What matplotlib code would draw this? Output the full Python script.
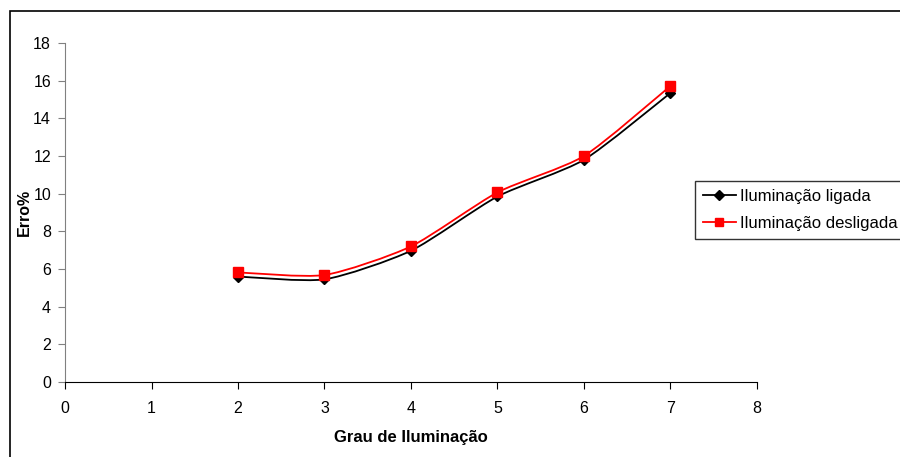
import numpy as np
import matplotlib.pyplot as plt
from matplotlib.path import Path
from matplotlib.patches import PathPatch, Rectangle
from matplotlib.lines import Line2D

plt.rcParams['font.family'] = ['Liberation Sans', 'DejaVu Sans']

grau = [2, 3, 4, 5, 6, 7]
erro_ligada = [5.6, 5.45, 6.97, 9.85, 11.8, 15.35]
erro_desligada = [5.82, 5.68, 7.2, 10.07, 12.0, 15.72]
x_ticks = [0, 1, 2, 3, 4, 5, 6, 7, 8]
y_ticks = [0, 2, 4, 6, 8, 10, 12, 14, 16, 18]


def smooth_path(xs, ys, t=1 / 9):
    # Excel-like smoothed line: cardinal spline as cubic bezier segments
    pts = np.column_stack([xs, ys]).astype(float)
    verts = [pts[0]]
    codes = [Path.MOVETO]
    for i in range(len(pts) - 1):
        p0 = pts[i - 1] if i > 0 else pts[i]
        p1 = pts[i]
        p2 = pts[i + 1]
        p3 = pts[i + 2] if i + 2 < len(pts) else pts[i + 1]
        c1 = p1 + (p2 - p0) * t
        c2 = p2 - (p3 - p1) * t
        verts += [c1, c2, p2]
        codes += [Path.CURVE4] * 3
    return Path(verts, codes)


fig = plt.figure(figsize=(9, 4.57), dpi=100)
ax = fig.add_axes([65 / 900, 1 - 382 / 457, 692 / 900, 339 / 457])

ax.add_patch(PathPatch(smooth_path(grau, erro_ligada), fill=False, color='black', lw=1.3))
ax.plot(grau, erro_ligada, ls='none', marker='D', ms=5.5, color='black')
ax.add_patch(PathPatch(smooth_path(grau, erro_desligada), fill=False, color='red', lw=1.3))
ax.plot(grau, erro_desligada, ls='none', marker='s', ms=6.5, color='red')

ax.set_xlim(0, 8)
ax.set_ylim(0, 18)
ax.set_xticks(x_ticks)
ax.set_yticks(y_ticks)
ax.tick_params(direction='out', length=5, labelsize=11.5)
ax.tick_params(axis='x', pad=9)
ax.tick_params(axis='y', pad=5, color='#808080')
for s in ['top', 'right']:
    ax.spines[s].set_visible(False)
ax.spines['left'].set_color('#808080')
ax.spines['bottom'].set_color('black')
ax.set_xlabel('Grau de Iluminação', fontsize=12, fontweight='bold', labelpad=10)
ax.set_ylabel('Erro%', fontsize=11.5, fontweight='bold', labelpad=1)

handles = [
    Line2D([], [], color='black', marker='D', ms=5, lw=1.3),
    Line2D([], [], color='red', marker='s', ms=6, lw=1.3),
]
leg = fig.legend(handles, ['Iluminação ligada', 'Iluminação desligada'],
                 loc='upper left', bbox_to_anchor=(695 / 900, 1 - 181 / 457),
                 fontsize=12, frameon=True, fancybox=False, borderpad=0.45,
                 handlelength=2.0, handletextpad=0.25, labelspacing=0.75,
                 borderaxespad=0)
leg.get_frame().set_edgecolor('black')
leg.get_frame().set_linewidth(1.0)

# outer chart frame
fig.patches.append(Rectangle((10 / 900, -0.1), 1.0, 1 - 11 / 457 + 0.1,
                             transform=fig.transFigure, fill=False,
                             edgecolor='black', lw=1.2))

fig.savefig('out.png', dpi=100)
